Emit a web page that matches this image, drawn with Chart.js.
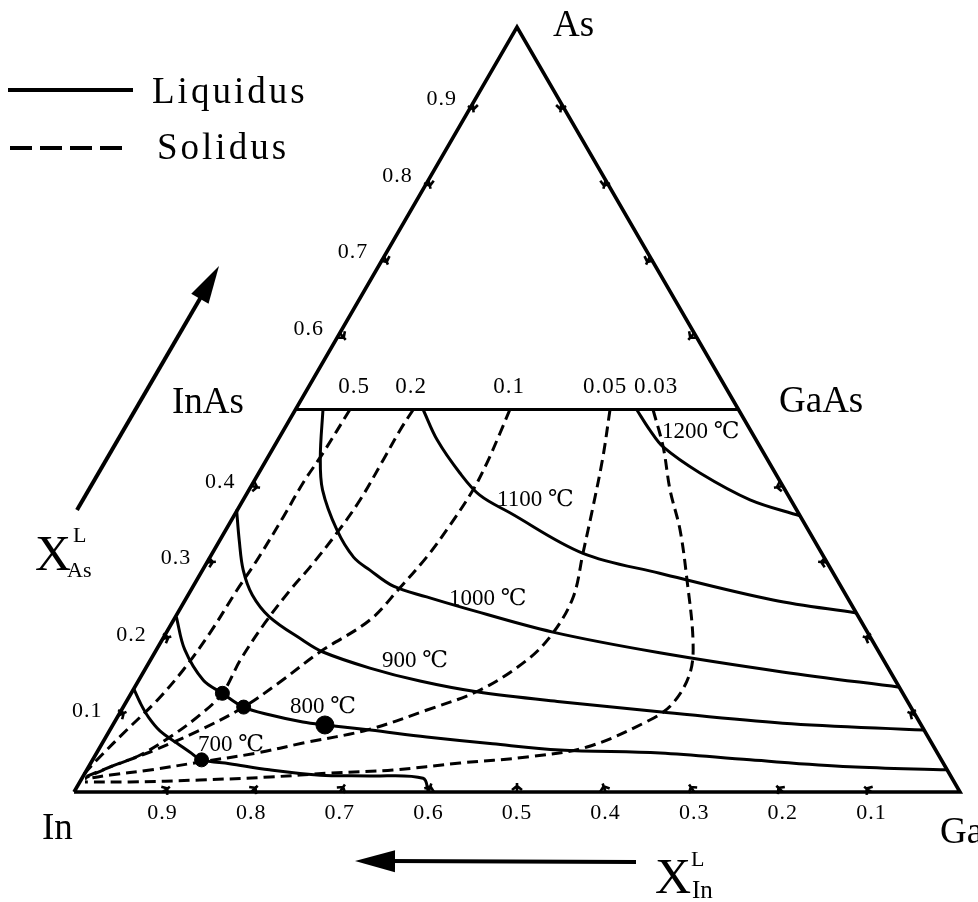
<!DOCTYPE html>
<html>
<head>
<meta charset="utf-8">
<script src="https://cdn.jsdelivr.net/npm/chart.js@4"></script>
<style>
  body { margin: 0; background: #fff; }
  canvas { display: block; }
</style>
</head>
<body>
<canvas id="ternary" width="978" height="902"></canvas>
<script>
// points are [X_In, X_As] (X_Ga = 1 - X_In - X_As)
let liq700 = [[0.865,0.136],[0.867,0.116],[0.867,0.098],[0.863,0.080],[0.852,0.064],[0.843,0.052],[0.835,0.042],[0.806,0.037],[0.765,0.029],[0.711,0.022],[0.656,0.021],[0.597,0.018],[0.600,0]];
let liq800 = [[0.770,0.229],[0.782,0.186],[0.781,0.146],[0.768,0.129],[0.753,0.111],[0.729,0.101],[0.696,0.0915],[0.673,0.0876],[0.625,0.081],[0.566,0.072],[0.496,0.063],[0.424,0.055],[0.313,0.051],[0.216,0.042],[0.108,0.033],[0,0.029]];
let liq900 = [[0.632,0.369],[0.649,0.329],[0.664,0.290],[0.670,0.2575],[0.665,0.229],[0.643,0.199],[0.6275,0.183],[0.585,0.162],[0.537,0.145],[0.480,0.131],[0.3925,0.118],[0.287,0.105],[0.155,0.090],[0,0.081]];
let liq1000 = [[0.469,0.5],[0.503,0.438],[0.522,0.395],[0.532,0.3425],[0.531,0.307],[0.521,0.290],[0.505,0.269],[0.4745,0.255],[0.443,0.242],[0.355,0.209],[0.248,0.182],[0.122,0.157],[0,0.137]];
let liq1100 = [[0.356,0.5],[0.360,0.460],[0.356,0.417],[0.348,0.388],[0.3255,0.365],[0.2695,0.312],[0.196,0.286],[0.0855,0.251],[0,0.234]];
let liq1200 = [[0.115,0.5],[0.1135,0.473],[0.1095,0.451],[0.085,0.417],[0.046,0.382],[0,0.361]];

let sol05 = [[0.4385,0.5],[0.4975,0.443],[0.5395,0.404],[0.584,0.3595],[0.642,0.303],[0.684,0.264],[0.7425,0.208],[0.797,0.1595],[0.846,0.120],[0.900,0.081],[0.948,0.0458],[0.979,0.022]];
let sol02 = [[0.367,0.5],[0.3955,0.473],[0.434,0.434],[0.486,0.382],[0.534,0.3386],[0.5866,0.294],[0.624,0.264],[0.674,0.221],[0.726,0.1725],[0.768,0.129],[0.8075,0.1007],[0.8556,0.0719],[0.901,0.0484],[0.943,0.0327],[0.978,0.0196]];
let sol01 = [[0.258,0.5],[0.2847,0.469],[0.319,0.430],[0.352,0.395],[0.401,0.349],[0.4485,0.307],[0.499,0.2667],[0.5536,0.2248],[0.631,0.183],[0.6956,0.1438],[0.753,0.111],[0.8173,0.081],[0.888,0.0523],[0.943,0.0327],[0.978,0.0183]];
let sol005 = [[0.145,0.5],[0.184,0.438],[0.228,0.3725],[0.2693,0.3124],[0.309,0.255],[0.3555,0.2078],[0.4024,0.1725],[0.475,0.1333],[0.548,0.1072],[0.6288,0.081],[0.7095,0.064],[0.768,0.051],[0.838,0.0392],[0.8998,0.0288],[0.948,0.0222],[0.979,0.017]];
let sol003 = [[0.0965,0.5],[0.1095,0.451],[0.1298,0.395],[0.1447,0.3425],[0.1696,0.277],[0.202,0.1987],[0.2269,0.1556],[0.2657,0.1163],[0.303,0.0941],[0.3916,0.0588],[0.4658,0.0458],[0.5453,0.0379],[0.6256,0.0288],[0.6987,0.0248],[0.769,0.0196],[0.85,0.0157],[0.9303,0.0131],[0.981,0.0131]];

let dotsSmall = [[0.768,0.129],[0.753,0.111],[0.835,0.042]];
let dotsBig = [[0.673,0.0876]];

let pseudoBinary = [[0.5,0.5],[0,0.5]];
let frame = [[1,0],[0,0],[0,1],[1,0]];

let tickValues = [0.1,0.2,0.3,0.4,0.5,0.6,0.7,0.8,0.9];
let leftTickLabels = ["0.1","0.2","0.3","0.4","","0.6","0.7","0.8","0.9"];
let bottomTickLabels = ["0.1","0.2","0.3","0.4","0.5","0.6","0.7","0.8","0.9"];
let solidusLabels = ["0.5","0.2","0.1","0.05","0.03"];

function toXY(p) {
  return { x: 1 - p[0] - p[1] / 2, y: p[1] };
}

function line(data, dashed, width) {
  return {
    data: data.map(toXY),
    showLine: true,
    borderColor: "#000",
    borderWidth: width || 3,
    borderDash: dashed ? [11, 6] : [],
    pointRadius: 0,
    tension: 0.35,
    clip: false,
  };
}

function dots(data, r) {
  return {
    data: data.map(toXY),
    showLine: false,
    pointRadius: r,
    pointBackgroundColor: "#000",
    pointBorderColor: "#000",
    clip: false,
  };
}

let frameSet = line(frame, false, 3.6);
frameSet.tension = 0;
let pbSet = line(pseudoBinary, false, 3);
pbSet.tension = 0;

function serif(size) {
  return size + "px 'Liberation Serif', 'DejaVu Serif', serif";
}

function arrow(ctx, x1, y1, x2, y2, headLen, headW) {
  let ang = Math.atan2(y2 - y1, x2 - x1);
  ctx.beginPath();
  ctx.moveTo(x1, y1);
  ctx.lineTo(x2 - Math.cos(ang) * headLen * 0.8, y2 - Math.sin(ang) * headLen * 0.8);
  ctx.lineWidth = 4;
  ctx.stroke();
  ctx.beginPath();
  ctx.moveTo(x2, y2);
  ctx.lineTo(x2 - Math.cos(ang) * headLen - Math.sin(ang) * headW, y2 - Math.sin(ang) * headLen + Math.cos(ang) * headW);
  ctx.lineTo(x2 - Math.cos(ang) * headLen + Math.sin(ang) * headW, y2 - Math.sin(ang) * headLen - Math.cos(ang) * headW);
  ctx.closePath();
  ctx.fill();
}

const decorations = {
  id: "decorations",
  beforeDraw(chart) {
    let ctx = chart.ctx;
    ctx.save();
    ctx.fillStyle = "#fff";
    ctx.fillRect(0, 0, chart.width, chart.height);
    ctx.restore();
  },
  afterDatasetsDraw(chart) {
    let ctx = chart.ctx;
    let xs = chart.scales.x;
    let ys = chart.scales.y;
    let px = (p) => {
      let q = toXY(p);
      return [xs.getPixelForValue(q.x), ys.getPixelForValue(q.y)];
    };
    let centre = px([1 / 3, 1 / 3]);

    ctx.save();
    ctx.strokeStyle = "#000";
    ctx.fillStyle = "#000";

    // ticks on the three edges
    function tick(p) {
      let [x, y] = px(p);
      let dx = centre[0] - x, dy = centre[1] - y;
      let d = Math.hypot(dx, dy);
      let nx = dx / d, ny = dy / d;
      let tx = -ny, ty = nx;
      ctx.lineWidth = 2.6;
      ctx.beginPath();
      ctx.moveTo(x, y);
      ctx.lineTo(x + nx * 9, y + ny * 9);
      ctx.moveTo(x + nx * 2 + tx * 5, y + ny * 2 + ty * 5);
      ctx.lineTo(x + nx * 6, y + ny * 6);
      ctx.lineTo(x + nx * 2 - tx * 5, y + ny * 2 - ty * 5);
      ctx.stroke();
    }
    tickValues.forEach((v) => {
      if (v != 0.5) {
        tick([1 - v, v]);
        tick([0, v]);
      }
      tick([v, 0]);
    });

    // tick labels
    ctx.font = serif(22);
    ctx.letterSpacing = "1px";
    ctx.textAlign = "center";
    ctx.textBaseline = "middle";
    tickValues.forEach((v, i) => {
      if (leftTickLabels[i]) {
        let [x, y] = px([1 - v, v]);
        ctx.fillText(leftTickLabels[i], x - 31, y - 4);
      }
      let [bx, by] = px([v, 0]);
      ctx.fillText(bottomTickLabels[i], bx, by + 21);
    });

    // solidus composition labels above the InAs-GaAs line
    ctx.font = serif(23);
    let solX = [354, 411, 509, 605, 656];
    solidusLabels.forEach((t, i) => ctx.fillText(t, solX[i], 387));

    // isotherm labels
    ctx.font = serif(23);
    ctx.letterSpacing = "0px";
    ctx.textAlign = "left";
    [["1200 ℃", 662, 432], ["1100 ℃", 497, 500], ["1000 ℃", 449, 599], ["900 ℃", 382, 661], ["800 ℃", 290, 707], ["700 ℃", 198, 745]].forEach((t) => {
      ctx.fillText(t[0], t[1], t[2]);
    });

    // corner labels
    ctx.textBaseline = "alphabetic";
    ctx.font = serif(37);
    ctx.fillText("As", 553, 36);
    ctx.fillText("InAs", 172, 413);
    ctx.fillText("GaAs", 779, 412);
    ctx.fillText("In", 42, 839);
    ctx.fillText("Ga", 940, 843);

    // legend
    ctx.lineWidth = 3.8;
    ctx.beginPath();
    ctx.moveTo(8, 90);
    ctx.lineTo(133, 90);
    ctx.stroke();
    ctx.setLineDash([22, 8]);
    ctx.beginPath();
    ctx.moveTo(10, 148);
    ctx.lineTo(128, 148);
    ctx.stroke();
    ctx.setLineDash([]);
    ctx.font = serif(37);
    ctx.letterSpacing = "3px";
    ctx.fillText("Liquidus", 152, 103);
    ctx.fillText("Solidus", 157, 159);
    ctx.letterSpacing = "0px";

    // axis arrows and titles
    arrow(ctx, 77, 510, 219, 266, 38, 10);
    arrow(ctx, 636, 862, 355, 861, 40, 11);
    ctx.font = serif(50);
    ctx.fillText("X", 35, 570);
    ctx.fillText("X", 655, 893);
    ctx.font = serif(22);
    ctx.fillText("L", 73, 542);
    ctx.fillText("As", 67, 577);
    ctx.fillText("L", 691, 866);
    ctx.font = serif(25);
    ctx.fillText("In", 692, 898);
    ctx.restore();
  },
};

new Chart(document.getElementById("ternary"), {
  type: "scatter",
  data: {
    datasets: [
      frameSet,
      pbSet,
      line(liq700),
      line(liq800),
      line(liq900),
      line(liq1000),
      line(liq1100),
      line(liq1200),
      line(sol05, true),
      line(sol02, true),
      line(sol01, true),
      line(sol005, true),
      line(sol003, true),
      dots(dotsSmall, 7),
      dots(dotsBig, 9),
    ],
  },
  options: {
    responsive: false,
    animation: false,
    layout: { padding: { left: 74, right: 18, top: 27, bottom: 110 } },
    scales: {
      x: { type: "linear", min: 0, max: 1, display: false },
      y: { type: "linear", min: 0, max: 1, display: false },
    },
    plugins: { legend: { display: false }, tooltip: { enabled: false } },
  },
  plugins: [decorations],
});
</script>
</body>
</html>
